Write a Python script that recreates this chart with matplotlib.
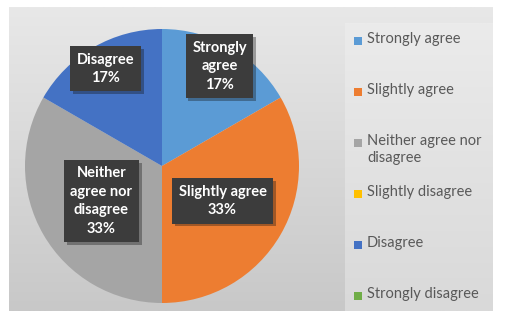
import matplotlib.pyplot as plt
import matplotlib.patheffects as pe
import numpy as np
from matplotlib.colors import LinearSegmentedColormap
from matplotlib.patches import Rectangle

# survey answers (counts) - Excel style pie
categories = ['Strongly agree', 'Slightly agree', 'Neither agree nor disagree',
              'Slightly disagree', 'Disagree', 'Strongly disagree']
legend_labels = ['Strongly agree', 'Slightly agree', 'Neither agree nor\ndisagree',
                 'Slightly disagree', 'Disagree', 'Strongly disagree']
box_labels = ['Strongly\nagree', 'Slightly agree', 'Neither\nagree nor\ndisagree',
              'Slightly disagree', 'Disagree', 'Strongly disagree']
values = [1, 2, 2, 0, 1, 0]
colors = ['#5B9BD5', '#ED7D31', '#A5A5A5', '#FFC000', '#4472C4', '#70AD47']

plt.rcParams['font.family'] = ['Lato', 'DejaVu Sans']

W, H = 506, 320
fig = plt.figure(figsize=(W / 100, H / 100), dpi=100, facecolor='white')


def px(x0, y0, x1, y1):
    # pixel box, top-left origin -> figure rect
    return [x0 / W, 1 - y1 / H, (x1 - x0) / W, (y1 - y0) / H]


grad = np.linspace(0, 1, 256).reshape(-1, 1)

bg = fig.add_axes(px(9, 7, 493, 311))
bg.imshow(grad, aspect='auto', extent=[0, 1, 0, 1],
          cmap=LinearSegmentedColormap.from_list('bg', ['#e8e8e8', '#c8c8c8']))
bg.axis('off')

lg = fig.add_axes(px(345, 23, 493, 311))
lg.imshow(grad, aspect='auto', extent=[0, 1, 0, 1],
          cmap=LinearSegmentedColormap.from_list('lg', ['#ebebeb', '#d9d9d9']))
lg.axis('off')

ax = fig.add_axes(px(25, 29, 299, 303))
wedges, _ = ax.pie(values, colors=colors, startangle=90, counterclock=False,
                   radius=1, wedgeprops=dict(linewidth=0))
ax.set_xlim(-1, 1)
ax.set_ylim(-1, 1)
ax.axis('off')

total = float(sum(values))
dists = [0.84, 0.51, 0.51, 0.5, 0.82, 0.5]
for w, lab, v, d in zip(wedges, box_labels, values, dists):
    if v == 0:
        continue
    ang = np.deg2rad((w.theta1 + w.theta2) / 2)
    x, y = d * np.cos(ang), d * np.sin(ang)
    t = ax.text(x, y, '{}\n{:.0f}%'.format(lab, v / total * 100),
                ha='center', va='center', fontsize=10.5, fontweight='bold',
                color='white', linespacing=1.4,
                bbox=dict(boxstyle='square,pad=0.45', fc='#3c3c3c', ec='none'))
    t.get_bbox_patch().set_path_effects(
        [pe.SimplePatchShadow(offset=(2, -2), alpha=0.35), pe.Normal()])

# legend drawn by hand so wrapped entry keeps the Excel row spacing
row0, step = 41, 51
for i, (lab, col) in enumerate(zip(legend_labels, colors)):
    yc = row0 + i * step
    fig.patches.append(Rectangle((354 / W, 1 - (yc + 4) / H), 8 / W, 8 / H,
                                 transform=fig.transFigure, fc=col, ec='none'))
    fig.text(367 / W, 1 - (yc - 9) / H, lab, ha='left', va='top',
             fontsize=10.5, color='#595959', linespacing=1.3)

fig.savefig('out.png', dpi=100, facecolor='white')
